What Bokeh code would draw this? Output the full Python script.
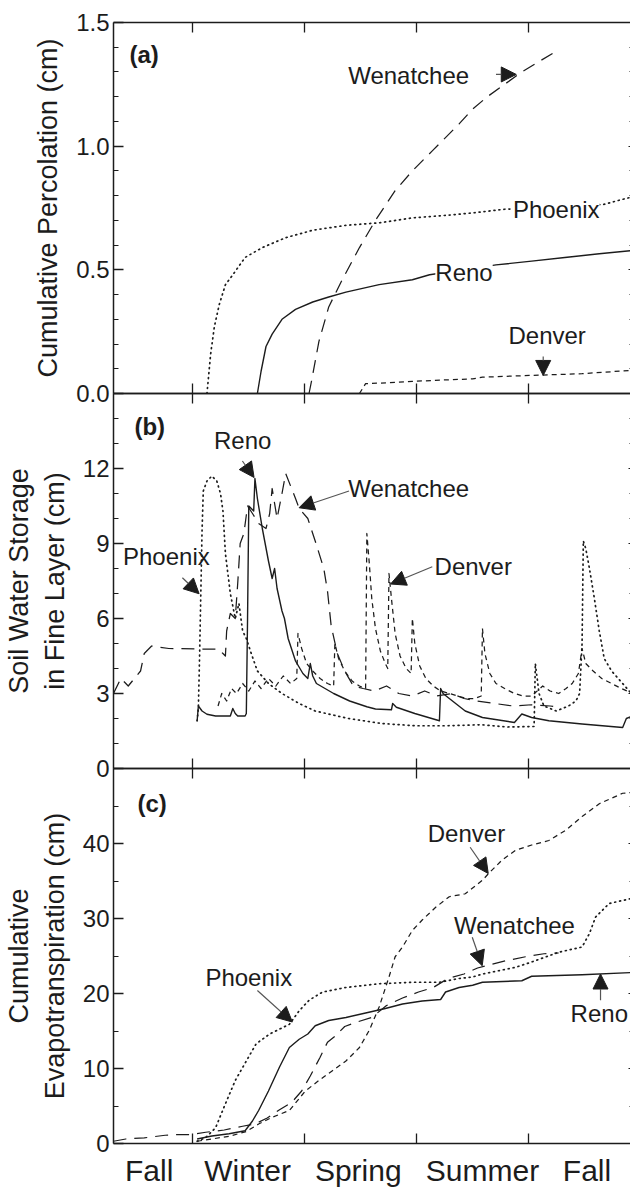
from bokeh.plotting import figure
from bokeh.models import (LinearAxis, FixedTicker, PrintfTickFormatter, Range1d,
                          Label, Arrow, NormalHead)
from bokeh.layouts import column
from bokeh.embed import file_html
from bokeh.resources import INLINE

FONT = "Liberation Sans"
INK = "#1c1c1c"

# ---------------- x axis (days since start of record) ----------------
x_start, x_end = 0, 422
season_bounds = [64, 155.25, 246.5, 337.75]
season_label_pos = [29, 109, 199, 300, 385]
season_labels = ["Fall", "Winter", "Spring", "Summer", "Fall"]

# ---------------- (a) cumulative percolation (cm) ----------------
pa_phoenix_x = [76, 79, 82, 86, 91, 97, 107, 121, 140, 162, 189, 216, 243, 270, 292, 318, 345, 372, 399, 410, 422]
pa_phoenix_y = [0.0, 0.16, 0.27, 0.36, 0.44, 0.48, 0.55, 0.59, 0.63, 0.66, 0.68, 0.69, 0.71, 0.72, 0.73, 0.745, 0.75, 0.755, 0.765, 0.78, 0.795]
pa_reno_x = [117, 120, 124, 129, 137, 148, 162, 175, 189, 216, 243, 257, 284, 311, 340, 367, 395, 422]
pa_reno_y = [0.0, 0.09, 0.19, 0.24, 0.30, 0.34, 0.37, 0.39, 0.41, 0.44, 0.46, 0.48, 0.50, 0.52, 0.535, 0.55, 0.565, 0.578]
pa_wen_x = [159, 161, 167, 175, 186, 200, 213, 229, 243, 259, 281, 292, 304, 332, 362]
pa_wen_y = [0.0, 0.05, 0.21, 0.35, 0.46, 0.59, 0.70, 0.82, 0.90, 0.98, 1.09, 1.15, 1.20, 1.30, 1.39]
pa_den_x = [200, 205, 216, 243, 270, 292, 300, 338, 381, 419, 422]
pa_den_y = [0.0, 0.04, 0.042, 0.049, 0.055, 0.059, 0.066, 0.073, 0.08, 0.093, 0.094]

# ---------------- (b) soil water storage in fine layer (cm) ----------------
pb_phoenix_x = [68, 69, 70, 71, 72, 73, 76, 80, 84, 87, 89, 91, 95, 99, 102, 105, 108, 112, 117, 126, 137, 151, 164, 191, 218, 245, 272, 299, 320, 342, 343, 346, 350, 360, 370, 376, 379, 381, 382, 384, 387, 391, 395, 399, 405, 414, 421]
pb_phoenix_y = [1.9, 2.4, 4.5, 7.0, 9.5, 11.1, 11.5, 11.7, 11.5, 11.0, 10.3, 8.6, 7.0, 6.0, 6.6, 5.5, 5.2, 4.6, 3.9, 3.4, 3.0, 2.6, 2.3, 2.0, 1.8, 1.71, 1.71, 1.75, 1.66, 1.68, 4.2, 3.0, 2.5, 2.3, 2.5, 2.7, 3.0, 5.0, 9.1, 8.8, 8.0, 6.8, 5.5, 4.4, 3.9, 3.4, 3.0]
pb_reno_x = [68, 69, 72, 76, 83, 89, 95, 97, 99, 101, 107, 108, 109, 110, 112, 114, 115, 117, 121, 126, 129, 131, 133, 137, 139, 142, 148, 154, 158, 160, 162, 165, 179, 192, 206, 213, 226, 227, 230, 245, 265, 266, 268, 272, 286, 300, 326, 332, 340, 354, 381, 414, 417, 422]
pb_reno_y = [1.9, 2.5, 2.3, 2.17, 2.1, 2.1, 2.1, 2.4, 2.2, 2.1, 2.1, 2.2, 6.0, 10.5, 10.4, 10.3, 11.6, 10.8, 9.6, 8.3, 7.6, 8.0, 7.2, 6.3, 6.0, 5.2, 4.3, 3.8, 3.6, 4.2, 3.7, 3.4, 3.0, 2.7, 2.47, 2.38, 2.35, 2.6, 2.45, 2.2, 1.91, 3.2, 3.0, 2.84, 2.3, 2.04, 1.84, 2.18, 2.04, 1.91, 1.78, 1.64, 2.0, 2.1]
pb_wen_x = [0, 6, 12, 22, 25, 31, 45, 70, 85, 89, 91, 92, 95, 99, 101, 103, 106, 109, 113, 118, 124, 127, 129, 133, 137, 140, 144, 148, 151, 158, 164, 171, 174, 177, 182, 188, 195, 203, 212, 222, 232, 243, 253, 263, 275, 285, 296, 310, 325, 340, 355, 362]
pb_wen_y = [3.0, 3.6, 3.3, 3.9, 4.6, 4.9, 4.8, 4.78, 4.78, 4.6, 4.5, 5.5, 6.2, 6.0, 7.4, 9.0, 9.4, 10.5, 10.2, 9.8, 9.6, 10.2, 11.2, 10.0, 11.0, 11.8, 11.3, 10.8, 10.4, 10.0, 9.1, 8.0, 7.1, 5.7, 4.6, 3.9, 3.3, 3.2, 3.1, 3.3, 3.0, 2.9, 3.1, 2.9, 3.0, 2.8, 2.7, 2.6, 2.5, 2.55, 2.5, 2.45]
pb_den_x = [85, 88, 92, 96, 100, 105, 110, 115, 120, 126, 132, 138, 144, 149, 150, 153, 157, 162, 168, 174, 179, 180, 183, 188, 194, 200, 205, 206, 208, 210, 213, 217, 221, 223, 224, 226, 229, 233, 238, 242, 243, 245, 249, 254, 260, 266, 273, 280, 287, 294, 299, 300, 302, 306, 311, 318, 326, 333, 340, 349, 355, 362, 368, 373, 378, 381, 384, 390, 397, 405, 413, 422]
pb_den_y = [2.5, 3.0, 2.7, 3.2, 3.0, 3.4, 3.1, 3.5, 3.2, 3.6, 3.3, 3.7, 3.4, 3.6, 5.4, 4.8, 4.2, 3.9, 3.6, 3.4, 3.3, 5.0, 4.4, 3.9, 3.5, 3.3, 3.2, 9.4, 8.2, 6.8, 5.6, 4.7, 4.2, 4.0, 7.8, 6.8, 5.4, 4.5, 4.0, 3.8, 6.0, 5.0, 4.1, 3.6, 3.3, 3.1, 3.0, 2.9, 2.8, 2.8, 2.9, 5.6, 4.6, 3.8, 3.4, 3.2, 3.0, 2.9, 2.9, 3.3, 3.1, 3.0, 3.2, 3.4, 3.8, 4.8, 4.2, 3.9, 3.6, 3.4, 3.2, 3.0]

# ---------------- (c) cumulative evapotranspiration (cm) ----------------
pc_reno_x = [68, 80, 94, 107, 113, 118, 126, 135, 143, 151, 158, 164, 175, 189, 205, 221, 235, 251, 266, 270, 281, 292, 300, 332, 340, 381, 422]
pc_reno_y = [0.6, 1.0, 1.3, 1.7, 3.0, 4.4, 7.0, 10.2, 12.8, 13.9, 14.6, 15.7, 16.4, 16.8, 17.4, 18.0, 18.6, 19.0, 19.2, 20.2, 20.8, 21.1, 21.5, 21.7, 22.3, 22.5, 22.8]
pc_phoenix_x = [68, 75, 83, 91, 99, 108, 116, 127, 143, 151, 159, 170, 189, 216, 243, 265, 281, 292, 300, 327, 340, 362, 381, 387, 392, 403, 422]
pc_phoenix_y = [0.3, 0.8, 2.1, 5.3, 8.4, 11.0, 13.3, 14.6, 15.9, 17.7, 19.1, 20.2, 20.8, 21.3, 21.5, 21.5, 22.0, 22.2, 22.6, 23.5, 24.2, 25.5, 26.2, 28.0, 30.2, 32.0, 32.7]
pc_wen_x = [0, 10, 25, 42, 54, 64, 75, 90, 105, 115, 125, 135, 145, 153, 160, 168, 174, 180, 188, 198, 210, 222, 235, 248, 260, 272, 285, 296, 305, 320, 335, 350, 362]
pc_wen_y = [0.3, 0.6, 0.75, 1.1, 1.2, 1.2, 1.5, 1.8, 2.3, 2.6, 3.4, 4.5, 5.5, 7.0, 9.0, 11.5, 13.5, 14.3, 15.6, 16.2, 16.8, 18.4, 19.4, 20.2, 20.8, 22.0, 22.6, 23.4, 23.8, 24.4, 24.9, 25.3, 25.4]
pc_den_x = [68, 80, 95, 108, 118, 129, 143, 156, 167, 178, 189, 200, 208, 216, 224, 229, 235, 243, 251, 262, 273, 286, 300, 305, 316, 327, 340, 354, 368, 381, 395, 414, 422]
pc_den_y = [0.3, 0.6, 1.0, 1.6, 2.6, 3.5, 4.4, 7.0, 8.4, 9.7, 11.0, 12.8, 15.1, 18.2, 22.2, 24.9, 26.2, 28.4, 29.8, 31.5, 32.9, 33.3, 35.1, 36.0, 37.8, 39.1, 39.8, 40.4, 41.8, 43.6, 45.3, 46.7, 46.8]

# ---------------- annotations (text, x, y, white box) and arrows (x0, y0, x1, y1) ----------------
notes_a = [("Wenatchee", 240, 1.286, False), ("Phoenix", 360, 0.744, True),
           ("Reno", 285, 0.491, True), ("Denver", 352.6, 0.2325, False)]
arrows_a = [(311, 1.29, 327.5, 1.29), (349.4, 0.15, 349.4, 0.073)]
notes_b = [("Phoenix", 43, 8.5, False), ("Reno", 105, 13.13, False),
           ("Wenatchee", 240, 11.19, False), ("Denver", 292.5, 8.1, False)]
arrows_b = [(56, 7.63, 69.6, 6.99), (104.8, 12.3, 114.3, 11.64),
            (191.5, 11.1, 150.9, 10.43), (259.2, 8.07, 225.3, 7.38)]
notes_c = [("Denver", 287, 41.3, False), ("Wenatchee", 326, 29.1, False),
           ("Reno", 395, 17.3, False), ("Phoenix", 110, 22.1, False)]
arrows_c = [(290, 39.5, 304.7, 36.0), (291.7, 27.5, 299.8, 23.7),
            (396, 19.1, 396, 22.6), (117, 20.4, 145.4, 16.2)]

x_range = Range1d(x_start, x_end)

STYLES = {
    "reno": dict(line_dash="solid", line_width=1.4),
    "phoenix": dict(line_dash="1 4", line_width=1.7, line_cap="round"),
    "denver": dict(line_dash="5 4", line_width=1.25),
    "wen": dict(line_dash="13 8", line_width=1.25),
}


def hide_labels(ax):
    ax.major_label_text_font_size = "0px"
    ax.major_label_text_color = None
    ax.major_label_text_alpha = 0
    ax.major_label_standoff = 0


def make_panel(y_end, majors, minors, fmt, title, tag, tag_xy, top, bottom, mtop, fh):
    p = figure(frame_width=519, frame_height=fh, x_range=x_range,
               y_range=Range1d(0, y_end), x_axis_type=None, y_axis_type=None,
               toolbar_location=None, output_backend="svg",
               min_border_left=111, min_border_right=0,
               min_border_top=top, min_border_bottom=bottom,
               border_fill_color=None, background_fill_color=None,
               outline_line_color=None, margin=(mtop, 0, 0, 0))
    ya = LinearAxis(ticker=FixedTicker(ticks=majors, minor_ticks=minors),
                    formatter=PrintfTickFormatter(format=fmt),
                    axis_label=title)
    ya.major_tick_in, ya.major_tick_out = 10, 0
    ya.minor_tick_in, ya.minor_tick_out = 5, 0
    ya.major_label_standoff = 4
    ya.axis_label_standoff = 10
    ya.major_label_text_font = FONT
    ya.major_label_text_font_size = "24px"
    ya.major_label_text_color = INK
    ya.axis_label_text_font = FONT
    ya.axis_label_text_font_size = "27px"
    ya.axis_label_text_font_style = "normal"
    ya.axis_label_text_color = INK
    ya.axis_line_color = INK
    ya.axis_line_width = 1.5
    ya.major_tick_line_color = INK
    ya.minor_tick_line_color = INK
    ya.major_tick_line_width = 1.3
    p.add_layout(ya, "left")

    yr = LinearAxis(ticker=FixedTicker(ticks=majors, minor_ticks=minors))
    yr.axis_line_color = None
    yr.major_tick_in, yr.major_tick_out = 4, 0
    yr.minor_tick_in, yr.minor_tick_out = 3, 0
    yr.major_tick_line_color = INK
    yr.minor_tick_line_color = INK
    hide_labels(yr)
    p.add_layout(yr, "right")

    xt = LinearAxis(ticker=FixedTicker(ticks=season_bounds))
    xt.major_tick_in, xt.major_tick_out = 10, 0
    xt.minor_tick_line_color = None
    hide_labels(xt)
    xt.axis_line_color = INK
    xt.axis_line_width = 1.5
    xt.major_tick_line_color = INK
    xt.major_tick_line_width = 1.3
    p.add_layout(xt, "above")

    p.add_layout(Label(x=tag_xy[0], y=tag_xy[1], text=tag, text_font=FONT,
                       text_font_size="24px", text_font_style="bold",
                       text_align="left", text_baseline="middle", text_color=INK))
    return p


def add_bottom_plain(p):
    xb = LinearAxis(ticker=FixedTicker(ticks=season_bounds))
    xb.major_tick_in, xb.major_tick_out = 10, 0
    xb.minor_tick_line_color = None
    hide_labels(xb)
    xb.axis_line_color = INK
    xb.axis_line_width = 1.5
    xb.major_tick_line_color = INK
    xb.major_tick_line_width = 1.3
    p.add_layout(xb, "below")


def add_notes(p, notes, arrows):
    for (x0, y0, x1, y1) in arrows:
        p.add_layout(Arrow(end=NormalHead(size=15, fill_color=INK, line_color=INK, line_width=1),
                           x_start=x0, y_start=y0, x_end=x1, y_end=y1,
                           line_color="#555555", line_width=1.2))
    for (t, x, y, bg) in notes:
        kw = dict(background_fill_color="white", background_fill_alpha=1.0) if bg else {}
        p.add_layout(Label(x=x, y=y, text=t, text_font=FONT, text_font_size="24px",
                           text_align="center", text_baseline="middle",
                           text_color=INK, **kw))


def draw(p, xs, ys, style):
    p.line(xs, ys, line_color=INK, line_join="round", **STYLES[style])


# panel (a)
pa = make_panel(1.5, [0, 0.5, 1.0, 1.5],
                [0.1, 0.2, 0.3, 0.4, 0.6, 0.7, 0.8, 0.9, 1.1, 1.2, 1.3, 1.4],
                "%.1f", "Cumulative Percolation (cm)", "(a)", (13, 1.37),
                22, 15, 0, 371)
add_bottom_plain(pa)
draw(pa, pa_phoenix_x, pa_phoenix_y, "phoenix")
draw(pa, pa_reno_x, pa_reno_y, "reno")
draw(pa, pa_wen_x, pa_wen_y, "wen")
draw(pa, pa_den_x, pa_den_y, "denver")
add_notes(pa, notes_a, arrows_a)

# panel (b)
pb = make_panel(15, [0, 3, 6, 9, 12], [1, 2, 4, 5, 7, 8, 10, 11, 13, 14],
                "%d", "Soil Water Storage\nin Fine Layer (cm)", "(b)", (17, 13.7),
                15, 15, -30, 375)
add_bottom_plain(pb)
draw(pb, pb_wen_x, pb_wen_y, "wen")
draw(pb, pb_den_x, pb_den_y, "denver")
draw(pb, pb_phoenix_x, pb_phoenix_y, "phoenix")
draw(pb, pb_reno_x, pb_reno_y, "reno")
add_notes(pb, notes_b, arrows_b)

# panel (c)
pc = make_panel(50, [0, 10, 20, 30, 40], [5, 15, 25, 35, 45],
                "%d", "Cumulative\nEvapotranspiration (cm)", "(c)", (19.5, 45.4),
                15, 45, -30, 375)
xs = LinearAxis(ticker=FixedTicker(ticks=season_label_pos, minor_ticks=season_bounds),
                major_label_overrides={k: v for k, v in zip(season_label_pos, season_labels)})
xs.major_tick_line_color = None
xs.major_tick_in, xs.major_tick_out = 0, 0
xs.minor_tick_in, xs.minor_tick_out = 10, 0
xs.minor_tick_line_color = INK
xs.minor_tick_line_width = 1.3
xs.axis_line_color = INK
xs.axis_line_width = 1.5
xs.major_label_standoff = 10
xs.major_label_text_font = FONT
xs.major_label_text_font_size = "30px"
xs.major_label_text_color = INK
pc.add_layout(xs, "below")
draw(pc, pc_wen_x, pc_wen_y, "wen")
draw(pc, pc_den_x, pc_den_y, "denver")
draw(pc, pc_phoenix_x, pc_phoenix_y, "phoenix")
draw(pc, pc_reno_x, pc_reno_y, "reno")
add_notes(pc, notes_c, arrows_c)

layout = column(pa, pb, pc, spacing=0)
open("out.html", "w").write(file_html(layout, INLINE))
